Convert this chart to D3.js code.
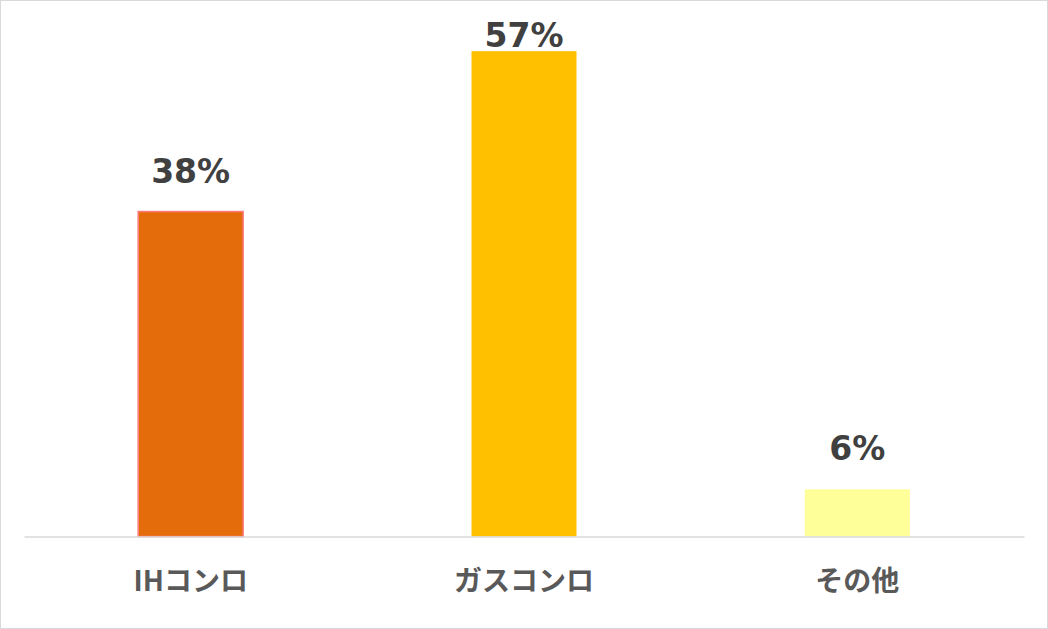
<!DOCTYPE html>
<html>
<head>
<meta charset="utf-8">
<script src="https://cdn.jsdelivr.net/npm/d3@7"></script>
<style>
  html, body { margin: 0; padding: 0; background: #fff; }
  svg { display: block; }
</style>
</head>
<body>
<svg id="chart"></svg>
<script>
// data
var categories = ["IHコンロ", "ガスコンロ", "その他"];
var shares = [0.379, 0.566, 0.055];
var valueLabels = ["38%", "57%", "6%"];
var fills = ["#E46C0A", "#FFC000", "#FFFF99"];
var outlines = ["#FF7C80", "none", "none"];

(function(){
  var W = 1048, H = 629;
  var svg = d3.select("#chart").attr("width", W).attr("height", H);

  // outer frame
  svg.append("rect")
    .attr("x", 0.5).attr("y", 0.5)
    .attr("width", W - 1).attr("height", H - 1)
    .attr("fill", "#fff")
    .attr("stroke", "#d9d9d9");

  var x = d3.scaleBand()
    .domain(categories)
    .range([24, 1024])
    .paddingInner(0.685)
    .paddingOuter(0.3425);

  var y = d3.scaleLinear().domain([0, 0.6]).range([536.5, 22]);

  svg.selectAll("rect.bar")
    .data(shares)
    .enter().append("rect")
    .attr("class", "bar")
    .attr("x", function(d, i){ return x(categories[i]); })
    .attr("y", function(d){ return y(d); })
    .attr("width", x.bandwidth())
    .attr("height", function(d){ return y(0) - y(d); })
    .attr("fill", function(d, i){ return fills[i]; })
    .attr("stroke", function(d, i){ return outlines[i]; })
    .attr("stroke-width", 1.5);

  // axis line, category labels under it
  var xAxis = d3.axisBottom(x).tickSize(0).tickPadding(35);
  var xas = svg.append("g")
    .attr("transform", "translate(0," + y(0) + ")")
    .call(xAxis);
  xas.select(".domain").attr("stroke", "#d9d9d9").attr("stroke-width", 1.5);
  xas.selectAll("text")
    .attr("fill", "#595959")
    .style("font-family", "'Noto Sans CJK JP', sans-serif")
    .style("font-weight", "bold")
    .style("font-size", "28px");

  svg.selectAll("text.val")
    .data(shares)
    .enter().append("text")
    .attr("class", "val")
    .attr("x", function(d, i){ return x(categories[i]) + x.bandwidth() / 2; })
    .attr("y", function(d){ return Math.max(y(d) - 29, 47); })
    .attr("text-anchor", "middle")
    .attr("fill", "#404040")
    .style("font-family", "'DejaVu Sans', sans-serif")
    .style("font-weight", "bold")
    .style("font-size", "33px")
    .text(function(d, i){ return valueLabels[i]; });
})();
</script>
</body>
</html>
